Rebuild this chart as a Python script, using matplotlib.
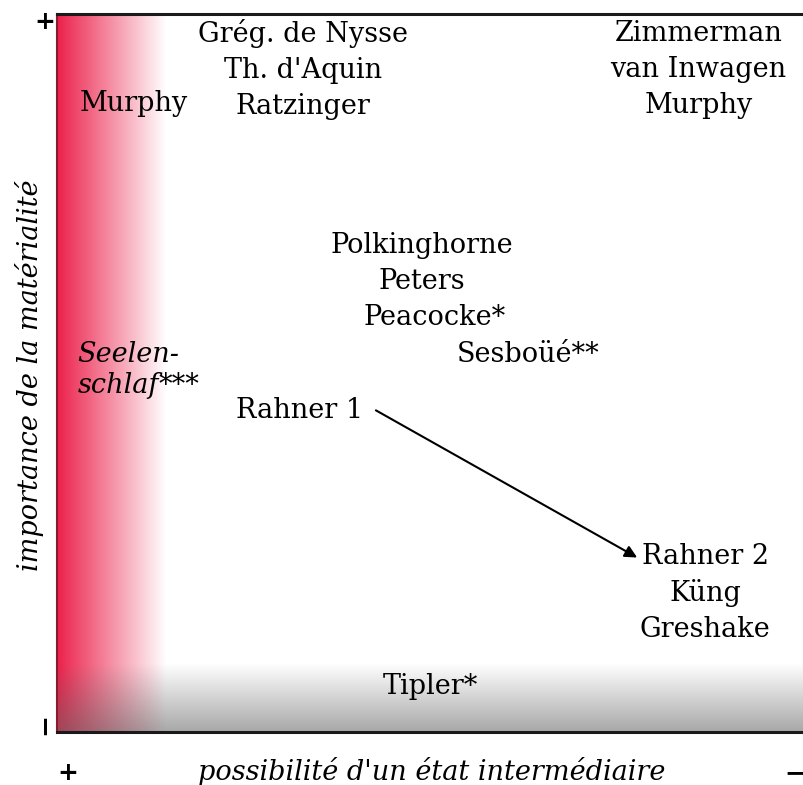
import numpy as np
import matplotlib
matplotlib.use("Agg")
import matplotlib.pyplot as plt

# ---- data ----
labels = [
    "Murphy",
    "Grég. de Nysse\nTh. d'Aquin\nRatzinger",
    "Zimmerman\nvan Inwagen\nMurphy",
    "Polkinghorne\nPeters",
    "Peacocke*",
    "Sesboüé**",
    "Rahner 1",
    "Rahner 2\nKüng\nGreshake",
    "Tipler*",
]
# x: possibilité d'un état intermédiaire (0 = +, 1 = −); y: importance de la matérialité (0 = −, 1 = +)
label_x = [0.103, 0.329, 0.857, 0.487, 0.505, 0.630, 0.324, 0.866, 0.499]
label_y = [0.875, 0.923, 0.923, 0.652, 0.577, 0.526, 0.448, 0.194, 0.064]

seelen_lines = ["Seelen-", "schlaf"]
seelen_stars = "***"
seelen_x = 0.027
seelen_y = [0.526, 0.482]

arrow_from = (0.426, 0.448)
arrow_to = (0.775, 0.243)

xlabel = "possibilité d'un état intermédiaire"
ylabel = "importance de la matérialité"

# ---- figure ----
W, H = 804, 785
fig = plt.figure(figsize=(W / 100, H / 100), dpi=100)
ax = fig.add_axes([57 / W, 1 - 732 / H, 1.0 - 57 / W + 0.002, (732 - 14) / H])
ax.set_xlim(0, 1)
ax.set_ylim(0, 1)

# background gradients (red on the left, grey at the bottom)
nx, ny = 600, 600
xs = np.linspace(0, 1, nx)
ys = np.linspace(0, 1, ny)
red_rgb = np.array([236, 34, 76]) / 255.0
tx = np.clip(xs / 0.145, 0, 1)
wx = (1 - tx) ** 1.0
redlayer = 1 - wx[None, :, None] * (1 - red_rgb[None, None, :])
redlayer = np.broadcast_to(redlayer, (ny, nx, 3))
ty = np.clip(ys / 0.095, 0, 1)
a = 0.55 * (1 - ty)[:, None, None]
grey = 0.38
img = redlayer * (1 - a) + grey * a
ax.imshow(img, extent=(0, 1, 0, 1), origin="lower", aspect="auto", zorder=0,
          interpolation="bilinear")

font = "DejaVu Serif"
fs = 19.5
for t, x, y in zip(labels, label_x, label_y):
    ax.text(x, y, t, ha="center", va="center", fontsize=fs, family=font,
            linespacing=1.42, zorder=3)

last = None
for t, y in zip(seelen_lines, seelen_y):
    last = ax.text(seelen_x, y, t, ha="left", va="center", fontsize=fs,
                   family=font, style="italic", zorder=3)
ax.annotate(seelen_stars, xy=(1, 0), xycoords=last, ha="left", va="bottom",
            fontsize=fs, family=font, zorder=3)

ax.annotate("", xy=arrow_to, xytext=arrow_from,
            arrowprops=dict(arrowstyle="-|>", color="black", lw=1.5,
                            mutation_scale=18, shrinkA=0, shrinkB=0), zorder=3)

ax.set_xticks([])
ax.set_yticks([])
for s in ["top", "bottom"]:
    ax.spines[s].set_linewidth(2.2)
    ax.spines[s].set_color("#1a1a1a")
ax.spines["left"].set_color("#8a1a30")
ax.spines["left"].set_linewidth(1.5)
ax.spines["right"].set_visible(False)

fig.text(30 / W, 1 - 375 / H, ylabel, rotation=90, ha="center", va="center",
         fontsize=fs, family=font, style="italic")
fig.text(432 / W, 1 - 772 / H, xlabel, ha="center", va="center",
         fontsize=fs, family=font, style="italic")
fig.text(45 / W, 1 - 22 / H, "+", ha="center", va="center", fontsize=18,
         family="DejaVu Sans", weight="bold")
fig.text(45 / W, 1 - 724 / H, "−", ha="center", va="center", fontsize=19,
         family="DejaVu Sans", rotation=90, weight="bold")
fig.text(68 / W, 1 - 773 / H, "+", ha="center", va="center", fontsize=18,
         family="DejaVu Sans", weight="bold")
fig.text(795 / W, 1 - 773 / H, "−", ha="center", va="center", fontsize=18,
         family="DejaVu Sans", weight="bold")

fig.savefig("out.png", dpi=100)
